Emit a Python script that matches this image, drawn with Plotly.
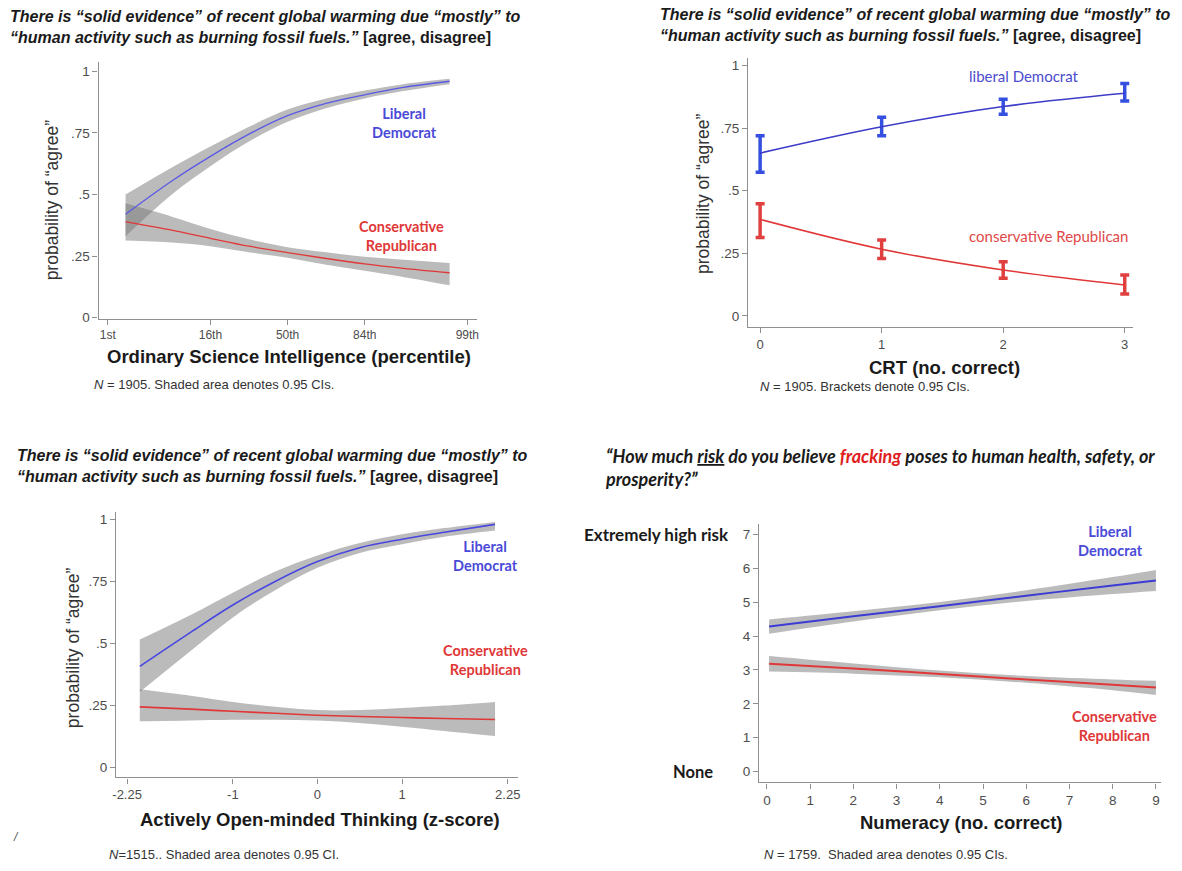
import plotly.graph_objects as go

# ---------------- data ----------------
prob_ticks = [0, 0.25, 0.5, 0.75, 1]
prob_ticklabels = ["0", ".25", ".5", ".75", "1"]

# Panel 1: Ordinary Science Intelligence (z-units, labelled as percentiles)
osi_ticks = [-2.33, -1, 0, 1, 2.33]
osi_ticklabels = ["1st", "16th", "50th", "84th", "99th"]
osi_x = [-2.1, -1.5, -1, -0.5, 0, 0.5, 1, 1.5, 2.1]
osi_lib = [0.42, 0.555, 0.655, 0.745, 0.82, 0.87, 0.905, 0.935, 0.96]
osi_lib_lo = [0.33, 0.50, 0.615, 0.715, 0.795, 0.85, 0.89, 0.92, 0.948]
osi_lib_hi = [0.50, 0.61, 0.695, 0.775, 0.845, 0.89, 0.922, 0.948, 0.97]
osi_con = [0.39, 0.355, 0.322, 0.29, 0.264, 0.24, 0.218, 0.20, 0.182]
osi_con_lo = [0.313, 0.305, 0.29, 0.265, 0.243, 0.215, 0.19, 0.165, 0.131]
osi_con_hi = [0.464, 0.41, 0.36, 0.318, 0.286, 0.265, 0.247, 0.235, 0.222]

# Panel 2: CRT
crt_ticks = [0, 1, 2, 3]
crt_x = [0, 1, 2, 3]
crt_lib = [0.65, 0.755, 0.836, 0.889]
crt_lib_lo = [0.573, 0.719, 0.805, 0.858]
crt_lib_hi = [0.719, 0.793, 0.865, 0.928]
crt_con = [0.385, 0.266, 0.183, 0.123]
crt_con_lo = [0.313, 0.229, 0.150, 0.087]
crt_con_hi = [0.448, 0.303, 0.216, 0.163]

# Panel 3: Actively Open-minded Thinking
aot_ticks = [-2.25, -1, 0, 1, 2.25]
aot_ticklabels = ["-2.25", "-1", "0", "1", "2.25"]
aot_x = [-2.1, -1.5, -1, -0.5, 0, 0.5, 1, 1.5, 2.1]
aot_lib = [0.408, 0.545, 0.655, 0.75, 0.83, 0.886, 0.92, 0.948, 0.98]
aot_lib_lo = [0.305, 0.47, 0.605, 0.715, 0.805, 0.865, 0.90, 0.93, 0.955]
aot_lib_hi = [0.516, 0.615, 0.705, 0.79, 0.855, 0.905, 0.94, 0.965, 0.99]
aot_con = [0.245, 0.236, 0.227, 0.219, 0.211, 0.206, 0.202, 0.198, 0.194]
aot_con_lo = [0.187, 0.19, 0.193, 0.193, 0.19, 0.18, 0.165, 0.148, 0.128]
aot_con_hi = [0.316, 0.29, 0.265, 0.245, 0.232, 0.232, 0.24, 0.25, 0.265]

# Panel 4: Numeracy -> fracking risk
num_ticks = [0, 1, 2, 3, 4, 5, 6, 7, 8, 9]
risk_ticks = [0, 1, 2, 3, 4, 5, 6, 7]
num_x = [0.05, 2, 4, 6, 8, 9]
num_lib = [4.28, 4.58, 4.88, 5.19, 5.49, 5.64]
num_lib_lo = [4.07, 4.43, 4.76, 5.03, 5.24, 5.33]
num_lib_hi = [4.49, 4.73, 5.00, 5.35, 5.74, 5.95]
num_con = [3.18, 3.04, 2.88, 2.72, 2.56, 2.48]
num_con_lo = [2.95, 2.89, 2.78, 2.62, 2.40, 2.26]
num_con_hi = [3.41, 3.19, 2.98, 2.82, 2.72, 2.68]

# ---------------- style ----------------
W, H = 1182, 871
ARIAL = "Arial, 'Liberation Sans', sans-serif"
CALIBRI = "Lato, 'Open Sans', sans-serif"
BLUE = "#4a4ad8"
RED = "#e03838"
EB_BLUE = "#3550e0"
EB_RED = "#e04040"
BAND = "rgba(120,120,120,0.5)"
AXC = "#8f8f8f"


def px(x):
    return x / W


def py(y):
    return 1 - y / H


fig = go.Figure()


def band(x, lo, hi, xa, ya):
    fig.add_trace(go.Scatter(x=x, y=hi, mode="lines", line=dict(width=0, shape="spline"),
                             xaxis=xa, yaxis=ya, hoverinfo="skip"))
    fig.add_trace(go.Scatter(x=x, y=lo, mode="lines", line=dict(width=0, shape="spline"),
                             fill="tonexty", fillcolor=BAND, xaxis=xa, yaxis=ya, hoverinfo="skip"))


def curve(x, y, color, xa, ya, w=1.3):
    fig.add_trace(go.Scatter(x=x, y=y, mode="lines", line=dict(color=color, width=w, shape="spline"),
                             xaxis=xa, yaxis=ya))


# panel 1
band(osi_x, osi_lib_lo, osi_lib_hi, "x", "y")
band(osi_x, osi_con_lo, osi_con_hi, "x", "y")
curve(osi_x, osi_lib, "#5a5ae6", "x", "y")
curve(osi_x, osi_con, RED, "x", "y")

# panel 2
for yv, lo, hi, col, ecol in [(crt_lib, crt_lib_lo, crt_lib_hi, "#3c3cc8", EB_BLUE),
                               (crt_con, crt_con_lo, crt_con_hi, RED, EB_RED)]:
    fig.add_trace(go.Scatter(
        x=crt_x, y=yv, mode="lines", line=dict(color=col, width=1.6, shape="spline"),
        error_y=dict(type="data", symmetric=False,
                     array=[h - v for h, v in zip(hi, yv)],
                     arrayminus=[v - l for v, l in zip(yv, lo)],
                     color=ecol, thickness=3.5, width=4.5),
        xaxis="x2", yaxis="y2"))

# panel 3
band(aot_x, aot_lib_lo, aot_lib_hi, "x3", "y3")
band(aot_x, aot_con_lo, aot_con_hi, "x3", "y3")
curve(aot_x, aot_lib, "#4848e0", "x3", "y3", 1.6)
curve(aot_x, aot_con, RED, "x3", "y3", 1.6)

# panel 4
band(num_x, num_lib_lo, num_lib_hi, "x4", "y4")
band(num_x, num_con_lo, num_con_hi, "x4", "y4")
curve(num_x, num_lib, "#3c3cd4", "x4", "y4", 2)
curve(num_x, num_con, RED, "x4", "y4", 2)


def ax(domain, rng, tickvals, ticktext, anchor, fs=13.5):
    return dict(domain=domain, range=rng, tickvals=tickvals, ticktext=ticktext, anchor=anchor,
                showline=True, linecolor=AXC, linewidth=1.3, ticks="outside", ticklen=5,
                tickcolor=AXC, tickwidth=1, showgrid=False, zeroline=False,
                tickfont=dict(family=ARIAL, size=fs, color="#4d4d4d"), fixedrange=True)


fig.update_layout(
    width=W, height=H, margin=dict(l=0, r=0, t=0, b=0),
    paper_bgcolor="white", plot_bgcolor="white", showlegend=False,
    xaxis=ax([px(95), px(475)], [-2.45, 2.45], osi_ticks, osi_ticklabels, "y", 12),
    yaxis=ax([py(321), py(62)], [-0.005, 1.04], prob_ticks, prob_ticklabels, "x"),
    xaxis2=ax([px(748), px(1135)], [-0.098, 3.07], crt_ticks, [str(t) for t in crt_ticks], "y2", 13),
    yaxis2=ax([py(329.3), py(58.4)], [-0.045, 1.03], prob_ticks, prob_ticklabels, "x2"),
    xaxis3=ax([px(112.7), px(516.5)], [-2.38, 2.37], aot_ticks, aot_ticklabels, "y3", 13),
    yaxis3=ax([py(782.75), py(515.5)], [-0.039, 1.03], prob_ticks, prob_ticklabels, "x3"),
    xaxis4=ax([px(759), px(1163)], [-0.18, 9.12], num_ticks, [str(t) for t in num_ticks], "y4", 13.5),
    yaxis4=ax([py(787.9), py(528.1)], [-0.32, 7.29], risk_ticks, [str(t) for t in risk_ticks], "x4"),
)

ann = []


def note(text, x, y, size, color="#222", family=ARIAL, xanchor="left", yanchor="middle",
         angle=0, align="left"):
    ann.append(dict(text=text, x=px(x), y=py(y), xref="paper", yref="paper", showarrow=False,
                    xanchor=xanchor, yanchor=yanchor, textangle=angle, align=align,
                    font=dict(family=family, size=size, color=color)))


TITLE_GW = ("<b><i>There is “solid evidence” of recent global warming due “mostly” to<br>"
            "“human activity such as burning fossil fuels.”</i> [agree, disagree]</b>")
YT = "probability of “agree”"

# panel 1 text
note(TITLE_GW, 4, 6, 16, "#1a1a1a", yanchor="top")
note(YT, 48, 201, 17.5, "#333", xanchor="center", angle=-90)
note("<b>Ordinary Science Intelligence (percentile)</b>", 286, 359, 18.5, "#1a1a1a", xanchor="center")
note("<i>N</i> = 1905. Shaded area denotes 0.95 CIs.", 88, 387, 13, "#333")
note("<b>Liberal<br>Democrat</b>", 403, 124, 14.5, BLUE, CALIBRI, xanchor="center", align="center")
note("<b>Conservative<br>Republican</b>", 400, 238, 14.5, RED, CALIBRI, xanchor="center", align="center")

# panel 2 text
note(TITLE_GW, 657, 4, 16, "#1a1a1a", yanchor="top")
note(YT, 702, 195, 17.5, "#333", xanchor="center", angle=-90)
note("<b>CRT (no. correct)</b>", 945, 370, 18.5, "#1a1a1a", xanchor="center")
note("<i>N</i> = 1905. Brackets denote 0.95 CIs.", 758, 389, 13, "#333")
note("liberal Democrat", 1025, 77, 15, "#4b4bd0", CALIBRI, xanchor="center")
note("conservative Republican", 1050, 238, 15, "#e04848", CALIBRI, xanchor="center")

# panel 3 text
note(TITLE_GW, 11, 448, 16, "#1a1a1a", yanchor="top")
note(YT, 69, 652, 17.5, "#333", xanchor="center", angle=-90)
note("<b>Actively Open-minded Thinking (z-score)</b>", 318, 825, 18.5, "#1a1a1a", xanchor="center")
note("<i>/</i>", 12, 843, 12, "#555", xanchor="center")
note("<i>N</i>=1515.. Shaded area denotes 0.95 CI.", 104, 860, 13, "#333")
note("<b>Liberal<br>Democrat</b>", 484, 560, 14.5, BLUE, CALIBRI, xanchor="center", align="center")
note("<b>Conservative<br>Republican</b>", 484, 665, 14.5, RED, CALIBRI, xanchor="center", align="center")

# panel 4 text
note("<b><i>“How much <u>risk</u> do you believe <span style='color:#e02020'>fracking</span> "
     "poses to human health, safety, or<br>prosperity?”</i></b>", 602, 446, 18, "#1a1a1a",
     CALIBRI, yanchor="top")
note("<b>Extremely high risk</b>", 731, 538, 17, "#1a1a1a", CALIBRI, xanchor="right")
note("<b>None</b>", 715, 777, 16.5, "#1a1a1a", CALIBRI, xanchor="right")
note("<b>Numeracy (no. correct)</b>", 962, 828, 18.5, "#1a1a1a", xanchor="center")
note("<i>N</i> = 1759.  Shaded area denotes 0.95 CIs.", 762, 860, 13, "#333")
note("<b>Liberal<br>Democrat</b>", 1112, 545, 14.5, BLUE, CALIBRI, xanchor="center", align="center")
note("<b>Conservative<br>Republican</b>", 1116, 731, 14.5, RED, CALIBRI, xanchor="center", align="center")

fig.update_layout(annotations=ann)
fig.write_html("out.html", config={"displayModeBar": False},
               post_script="document.body.style.margin='0px';document.body.style.overflow='hidden';")
